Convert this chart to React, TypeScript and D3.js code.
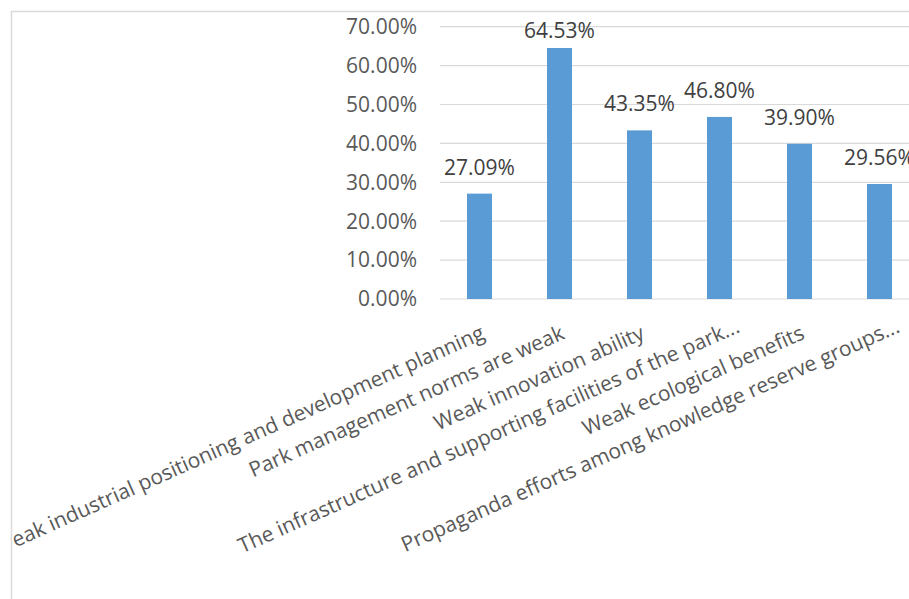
import React from "react";
import * as d3 from "d3";

const categories = [
  "Weak industrial positioning and development planning",
  "Park management norms are weak",
  "Weak innovation ability",
  "The infrastructure and supporting facilities of the park",
  "Weak ecological benefits",
  "Propaganda efforts among knowledge reserve groups",
];
const truncated = [false, false, false, true, false, true];
const values = [0.2709, 0.6453, 0.4335, 0.468, 0.399, 0.2956];
const yTicks = [0, 0.1, 0.2, 0.3, 0.4, 0.5, 0.6, 0.7];

const W = 909;
const H = 599;
const FONT = "'Open Sans', 'Noto Sans', sans-serif";

export default function App() {
  const x = d3
    .scaleBand<number>()
    .domain(categories.map((_, i) => i))
    .range([439.5, 919.5])
    .paddingInner(0.6875)
    .paddingOuter(0.34375);
  const y = d3.scaleLinear().domain([0, 0.7]).range([299, 26.7]);
  const fmt = (v: number) => (v * 100).toFixed(2) + "%";
  const angle = -24;

  return (
    <svg
      width={W}
      height={H}
      style={{ position: "absolute", left: 0, top: 0, background: "#fff" }}
      fontFamily={FONT}
    >
      <defs>
        <clipPath id="frame">
          <rect x={12} y={12} width={W} height={H} />
        </clipPath>
      </defs>
      <rect x={0} y={0} width={W} height={H} fill="#fff" />
      <rect
        x={11.5}
        y={11.5}
        width={W + 20}
        height={H + 20}
        fill="#fff"
        stroke="#d9d9d9"
        strokeWidth={1.5}
      />
      {yTicks.map((t) => (
        <g key={t}>
          <line
            x1={440}
            x2={W}
            y1={y(t)}
            y2={y(t)}
            stroke="#d9d9d9"
            strokeWidth={1.2}
          />
          <text
            x={417}
            y={y(t)}
            dy="0.35em"
            textAnchor="end"
            fontSize={21}
            fill="#595959"
          >
            {fmt(t)}
          </text>
        </g>
      ))}
      {values.map((v, i) => {
        const bx = x(i) as number;
        const cx = bx + x.bandwidth() / 2;
        const ly = Math.max(y(v) - 19, y(0.7) + 11);
        return (
          <g key={i}>
            <rect
              x={bx}
              y={y(v)}
              width={x.bandwidth()}
              height={y(0) - y(v)}
              fill="#5b9bd5"
            />
            <text
              x={cx}
              y={ly}
              textAnchor="middle"
              fontSize={21}
              fill="#404040"
            >
              {fmt(v)}
            </text>
          </g>
        );
      })}
      <g clipPath="url(#frame)">
        {categories.map((c, i) => {
          const cx = (x(i) as number) + x.bandwidth() / 2;
          return (
            <g key={c} transform={`translate(${cx},${324}) rotate(${angle})`}>
              <text
                x={0}
                y={0}
                dy="0.74em"
                textAnchor="end"
                fontSize={21}
                fill="#595959"
              >
                {c}
              </text>
              {truncated[i] && (
                <text
                  x={0}
                  y={0}
                  dy="0.74em"
                  textAnchor="start"
                  fontSize={21}
                  fill="#595959"
                >
                  ...
                </text>
              )}
            </g>
          );
        })}
      </g>
    </svg>
  );
}
